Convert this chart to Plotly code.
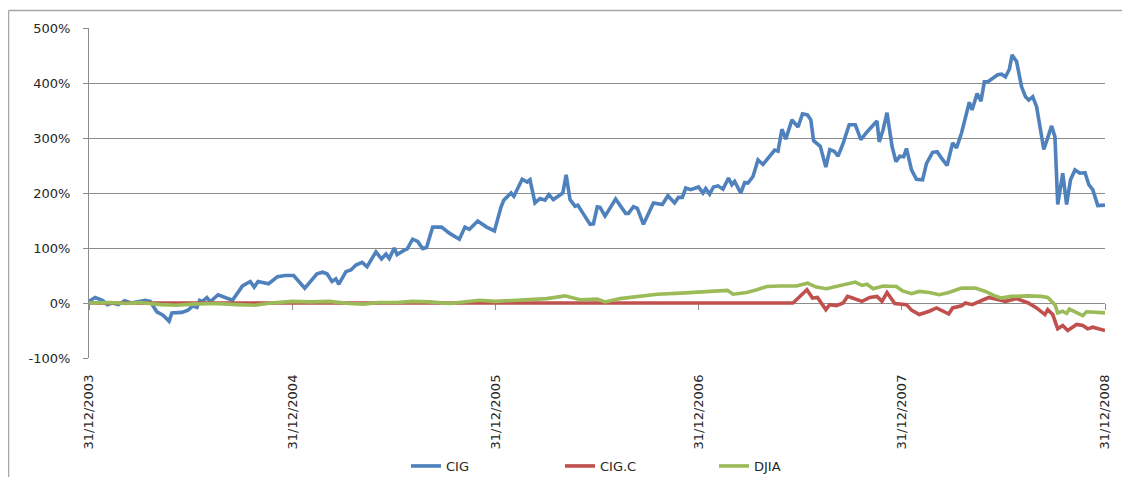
import plotly.graph_objects as go

# ---------------- data ----------------
cig_dates = [
    "2003-12-31", "2004-01-11", "2004-01-24", "2004-02-02", "2004-02-11", "2004-02-22",
    "2004-03-04", "2004-03-16", "2004-04-10", "2004-04-19", "2004-05-01", "2004-05-12",
    "2004-05-23", "2004-05-28", "2004-06-15", "2004-06-26", "2004-07-05", "2004-07-12",
    "2004-07-17", "2004-07-22", "2004-07-30", "2004-08-05", "2004-08-19", "2004-09-01",
    "2004-09-14", "2004-10-02", "2004-10-16", "2004-10-23", "2004-10-30", "2004-11-18",
    "2004-12-04", "2004-12-18", "2005-01-02", "2005-01-22", "2005-02-13", "2005-02-23",
    "2005-03-03", "2005-03-12", "2005-03-19", "2005-03-24", "2005-04-06", "2005-04-15",
    "2005-04-24", "2005-05-05", "2005-05-14", "2005-05-30", "2005-06-09", "2005-06-17",
    "2005-06-23", "2005-07-02", "2005-07-07", "2005-07-20", "2005-07-25", "2005-08-04",
    "2005-08-13", "2005-08-22", "2005-08-29", "2005-09-09", "2005-09-25", "2005-10-09",
    "2005-10-27", "2005-11-06", "2005-11-14", "2005-11-29", "2005-12-15", "2005-12-29",
    "2006-01-10", "2006-01-15", "2006-01-28", "2006-02-02", "2006-02-17", "2006-02-26",
    "2006-03-03", "2006-03-12", "2006-03-21", "2006-03-30", "2006-04-06", "2006-04-14",
    "2006-04-26", "2006-05-01", "2006-05-07", "2006-05-14", "2006-05-23", "2006-05-28",
    "2006-06-19", "2006-06-25", "2006-07-02", "2006-07-07", "2006-07-16", "2006-08-04",
    "2006-08-22", "2006-08-27", "2006-09-05", "2006-09-12", "2006-09-23", "2006-10-11",
    "2006-10-27", "2006-11-06", "2006-11-18", "2006-11-25", "2006-12-02", "2006-12-08",
    "2006-12-17", "2006-12-31", "2007-01-08", "2007-01-13", "2007-01-20", "2007-01-27",
    "2007-02-04", "2007-02-13", "2007-02-23", "2007-03-01", "2007-03-06", "2007-03-12",
    "2007-03-17", "2007-03-24", "2007-03-30", "2007-04-08", "2007-04-17", "2007-04-26",
    "2007-05-17", "2007-05-23", "2007-05-30", "2007-06-06", "2007-06-17", "2007-06-28",
    "2007-07-06", "2007-07-15", "2007-07-21", "2007-07-26", "2007-08-07", "2007-08-17",
    "2007-08-24", "2007-09-01", "2007-09-08", "2007-09-17", "2007-09-28", "2007-10-09",
    "2007-10-19", "2007-10-30", "2007-11-17", "2007-11-21", "2007-11-28", "2007-12-05",
    "2007-12-14", "2007-12-21", "2007-12-28", "2008-01-04", "2008-01-09", "2008-01-18",
    "2008-01-27", "2008-02-07", "2008-02-14", "2008-02-25", "2008-03-04", "2008-03-13",
    "2008-03-22", "2008-04-01", "2008-04-08", "2008-04-17", "2008-05-01", "2008-05-06",
    "2008-05-15", "2008-05-22", "2008-05-28", "2008-06-03", "2008-06-21", "2008-06-28",
    "2008-07-05", "2008-07-12", "2008-07-17", "2008-07-25", "2008-08-03", "2008-08-10",
    "2008-08-16", "2008-08-23", "2008-08-30", "2008-09-12", "2008-09-19", "2008-09-26",
    "2008-10-02", "2008-10-07", "2008-10-16", "2008-10-23", "2008-10-30", "2008-11-07",
    "2008-11-16", "2008-11-25", "2008-12-02", "2008-12-09", "2008-12-18", "2008-12-31",
]
cig_values = [
    3, 10, 5, -3, 0, -3,
    4, 0, 5, 3, -16, -22,
    -33, -18, -17, -13, -5, -8,
    5, 3, 10, 2, 15, 10,
    5, 31, 39, 29, 39, 35,
    48, 50, 50, 27, 53, 56,
    53, 39, 44, 34, 57, 60,
    69, 74, 66, 93, 80, 89,
    81, 100, 88, 96, 98, 116,
    112, 99, 101, 138, 138, 127,
    116, 138, 134, 149, 138, 131,
    175, 187, 200, 194, 225, 220,
    224, 182, 190, 187, 197, 188,
    197, 200, 233, 188, 176, 178,
    143, 144, 175, 174, 158, 189,
    163, 163, 175, 172, 143, 182,
    179, 195, 182, 192, 192, 209,
    206, 211, 200, 208, 198, 211,
    213, 207, 227, 215, 221, 211,
    200, 219, 218, 230, 260, 252,
    278, 276, 316, 298, 333, 320,
    344, 342, 333, 295, 285, 247,
    279, 276, 267, 290, 324, 324,
    297, 311, 331, 293, 315, 346,
    285, 257, 267, 266, 281, 242,
    225, 224, 254, 274, 275, 262,
    250, 291, 282, 309, 365, 351,
    381, 367, 402, 402, 415, 416,
    411, 425, 451, 439, 393, 375,
    369, 375, 357, 279, 302, 322,
    302, 179, 236, 179, 224, 242,
    236, 237, 215, 206, 177, 178,
]

cigc_dates = [
    "2003-12-31", "2007-06-19", "2007-07-14", "2007-07-24", "2007-08-02", "2007-08-17",
    "2007-08-24", "2007-09-05", "2007-09-17", "2007-09-25", "2007-10-04", "2007-10-21",
    "2007-11-04", "2007-11-17", "2007-11-26", "2007-12-05", "2007-12-19", "2008-01-09",
    "2008-01-18", "2008-02-01", "2008-02-19", "2008-03-03", "2008-03-25", "2008-04-01",
    "2008-04-17", "2008-04-24", "2008-05-06", "2008-05-23", "2008-06-05", "2008-06-23",
    "2008-07-05", "2008-07-25", "2008-08-05", "2008-08-15", "2008-08-30", "2008-09-14",
    "2008-09-19", "2008-09-28", "2008-10-07", "2008-10-16", "2008-10-25", "2008-11-10",
    "2008-11-21", "2008-11-30", "2008-12-09", "2008-12-31",
]
cigc_values = [
    0, 0, 24, 9, 10, -12,
    -3, -5, 0, 12, 9, 3,
    10, 12, 3, 19, -1, -3,
    -13, -21, -15, -9, -20, -9,
    -5, 0, -3, 5, 10, 6,
    3, 8, 3, 0, -9, -21,
    -12, -21, -47, -41, -50, -39,
    -41, -47, -44, -50,
]

djia_dates = [
    "2003-12-31", "2004-02-07", "2004-03-07", "2004-04-01", "2004-05-08", "2004-06-05",
    "2004-07-05", "2004-08-13", "2004-09-21", "2004-10-25", "2004-11-22", "2004-12-31",
    "2005-02-01", "2005-03-07", "2005-04-12", "2005-05-08", "2005-06-04", "2005-07-06",
    "2005-08-04", "2005-09-04", "2005-10-10", "2005-11-09", "2005-12-02", "2005-12-31",
    "2006-02-14", "2006-04-02", "2006-05-05", "2006-06-01", "2006-07-02", "2006-07-16",
    "2006-08-12", "2006-09-23", "2006-10-18", "2006-11-29", "2006-12-31", "2007-01-27",
    "2007-02-21", "2007-03-03", "2007-03-28", "2007-04-15", "2007-05-03", "2007-05-26",
    "2007-06-25", "2007-07-15", "2007-07-31", "2007-08-18", "2007-09-05", "2007-09-22",
    "2007-10-09", "2007-10-21", "2007-10-30", "2007-11-10", "2007-11-28", "2007-12-22",
    "2008-01-02", "2008-01-18", "2008-02-01", "2008-02-19", "2008-03-08", "2008-03-25",
    "2008-04-17", "2008-05-12", "2008-05-30", "2008-06-16", "2008-06-27", "2008-07-15",
    "2008-08-15", "2008-09-07", "2008-09-19", "2008-10-02", "2008-10-07", "2008-10-16",
    "2008-10-23", "2008-10-28", "2008-11-10", "2008-11-21", "2008-11-28", "2008-12-15",
    "2008-12-31",
]
djia_values = [
    0, 1, -1, 1, -3, -4,
    -2, -1, -3, -4, 0, 3,
    2, 3, -1, -2, 1, 1,
    3, 2, -1, 2, 5, 3,
    6, 8, 13, 6, 7, 2,
    8, 12, 16, 18, 20, 22,
    23, 16, 19, 24, 30, 31,
    31, 36, 29, 26, 30, 35,
    38, 32, 34, 26, 31, 30,
    22, 17, 21, 19, 15, 19,
    27, 27, 21, 13, 9, 12,
    13, 12, 10, -3, -18, -15,
    -19, -11, -18, -23, -16, -17,
    -18,
]

x_tick_dates = ["2003-12-31", "2004-12-31", "2005-12-31", "2006-12-31", "2007-12-31", "2008-12-31"]
x_tick_labels = ["31/12/2003", "31/12/2004", "31/12/2005", "31/12/2006", "31/12/2007", "31/12/2008"]
y_tick_values = [-100, 0, 100, 200, 300, 400, 500]
y_tick_labels = ["-100%", "0%", "100%", "200%", "300%", "400%", "500%"]

# ---------------- style ----------------
BLUE, RED, GREEN = "#4F81BD", "#C0504D", "#9BBB59"
GRID = "#8C8C8C"
LW = 3.6
TXT = dict(family="DejaVu Sans", size=13, color="#262626")
OFF = 8  # page body margin in the browser
W, H = 1130 - OFF, 477 - OFF
ML, MT = 89 - OFF, 28 - OFF
MR = W - (1105 - OFF)
MB = H - (358 - OFF)
PW, PH = W - ML - MR, H - MT - MB

fig = go.Figure()
fig.add_trace(go.Scatter(x=cig_dates, y=cig_values, name="CIG", mode="lines",
                         line=dict(color=BLUE, width=LW), xaxis="x", yaxis="y"))
fig.add_trace(go.Scatter(x=cigc_dates, y=cigc_values, name="CIG.C", mode="lines",
                         line=dict(color=RED, width=LW), xaxis="x", yaxis="y"))
fig.add_trace(go.Scatter(x=djia_dates, y=djia_values, name="DJIA", mode="lines",
                         line=dict(color=GREEN, width=LW), xaxis="x2", yaxis="y"))

xrange = [x_tick_dates[0], x_tick_dates[-1]]
zero_pos = (0 - y_tick_values[0]) / (y_tick_values[-1] - y_tick_values[0])

fig.update_layout(
    width=W, height=H,
    margin=dict(l=ML, r=MR, t=MT, b=MB, pad=0, autoexpand=False),
    paper_bgcolor="white", plot_bgcolor="white",
    font=TXT,
    showlegend=True,
    legend=dict(orientation="h", x=(406 - OFF - ML) / PW, xanchor="left",
                y=(MT + PH - (451 - OFF)) / PH, yanchor="top",
                entrywidth=109, entrywidthmode="pixels",
                font=TXT, bgcolor="rgba(0,0,0,0)"),
    xaxis=dict(type="date", range=xrange, tickvals=x_tick_dates, ticktext=x_tick_labels,
               tickangle=-90, ticks="", showline=False, showgrid=False, zeroline=False,
               anchor="y", side="bottom", ticklabelstandoff=13, automargin=False,
               fixedrange=True, tickfont=TXT),
    xaxis2=dict(type="date", range=xrange, overlaying="x", matches="x", anchor="free",
                position=zero_pos, tickvals=x_tick_dates, showticklabels=False,
                ticks="outside", ticklen=6, tickcolor=GRID, tickwidth=1,
                showline=True, linecolor=GRID, linewidth=1, showgrid=False,
                zeroline=False, layer="below traces", automargin=False),
    yaxis=dict(range=[y_tick_values[0], y_tick_values[-1]], tickvals=y_tick_values,
               ticktext=y_tick_labels, showgrid=True, gridcolor=GRID, gridwidth=1,
               zeroline=False, showline=True, linecolor=GRID, linewidth=1,
               ticks="outside", ticklen=5, tickcolor=GRID, tickwidth=1,
               ticklabelstandoff=10, automargin=False, fixedrange=True, tickfont=TXT),
)

# chart-area frame (Excel style border; the right and bottom edges fall outside the image)
fx0 = (8.5 - OFF - ML) / PW
fx1 = (W + 10 - ML) / PW
fy_top = (MT + PH - (10.5 - OFF)) / PH
fy_bot = (MT + PH - (H + 10)) / PH
fig.add_shape(type="line", xref="paper", yref="paper", x0=fx0, x1=fx0, y0=fy_bot, y1=fy_top,
              line=dict(color="#A6A6A6", width=1.5))
fig.add_shape(type="line", xref="paper", yref="paper", x0=fx0, x1=fx1, y0=fy_top, y1=fy_top,
              line=dict(color="#A6A6A6", width=1.5))

fig.write_html("out.html")
